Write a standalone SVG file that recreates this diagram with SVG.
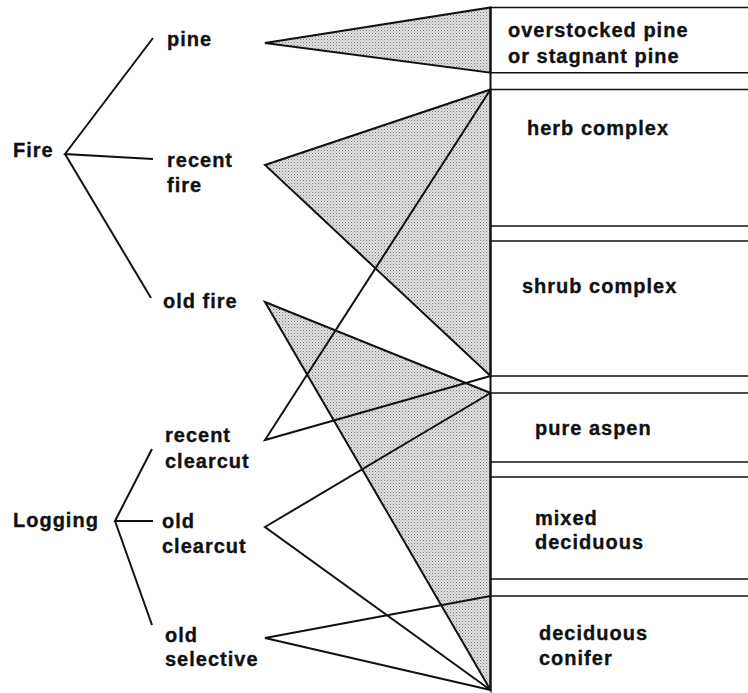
<svg xmlns="http://www.w3.org/2000/svg" width="748" height="693" viewBox="0 0 748 693">
<style>
text{font-family:"Liberation Sans",Arial,Helvetica,sans-serif;font-weight:bold;font-size:20px;letter-spacing:1px;fill:#111;stroke:#111;stroke-width:0.35px}
.ln{stroke:#111;stroke-width:2;fill:none;stroke-linejoin:miter}
.sh{fill:url(#dots);stroke:#111;stroke-width:2;stroke-linejoin:miter}
.bx{stroke:#111;stroke-width:1.6;fill:none}
</style>
<defs>
<pattern id="dots" width="3" height="3" patternUnits="userSpaceOnUse">
<rect width="3" height="3" fill="#e2e2e2"/>
<rect width="1" height="1" fill="#777"/>
<rect x="1.5" y="1.5" width="1" height="1" fill="#999"/>
</pattern>
</defs>
<rect width="748" height="693" fill="#fff"/>
<g id="connectors">
<polygon class="sh" points="265,43 490.5,7.5 490.5,72.7"/>
<polygon class="sh" points="265,165 490.5,89.5 490.5,376"/>
<polygon class="sh" points="265,302 490.5,393 490.5,690"/>
<polyline class="ln" points="490.5,89.5 265,440 490.5,376"/>
<polyline class="ln" points="490.5,393 265,527 490.5,690"/>
<polyline class="ln" points="490.5,596 265,638 490.5,690"/>
<polyline class="ln" points="153,38 65,154 153,159"/>
<line class="ln" x1="65" y1="154" x2="151" y2="298"/>
<polyline class="ln" points="152,449 115,521 153,521"/>
<line class="ln" x1="115" y1="521" x2="152" y2="625"/>
</g>
<g id="boxes">
<line class="ln" x1="490.5" y1="7" x2="490.5" y2="691"/>
<line class="bx" x1="490" y1="7.5" x2="748" y2="7.5"/>
<line class="bx" x1="490" y1="72.7" x2="748" y2="72.7"/>
<line class="bx" x1="490" y1="89.5" x2="748" y2="89.5"/>
<line class="bx" x1="490" y1="226" x2="748" y2="226"/>
<line class="bx" x1="490" y1="241" x2="748" y2="241"/>
<line class="bx" x1="490" y1="376" x2="748" y2="376"/>
<line class="bx" x1="490" y1="393" x2="748" y2="393"/>
<line class="bx" x1="490" y1="462" x2="748" y2="462"/>
<line class="bx" x1="490" y1="477" x2="748" y2="477"/>
<line class="bx" x1="490" y1="579" x2="748" y2="579"/>
<line class="bx" x1="490" y1="596" x2="748" y2="596"/>
</g>
<g id="fire"><text x="13" y="157">Fire</text></g>
<g id="logging"><text x="13" y="527">Logging</text></g>
<g id="pine"><text x="167" y="46">pine</text></g>
<g id="recent-fire"><text x="167" y="167">recent</text><text x="167" y="192">fire</text></g>
<g id="old-fire"><text x="163" y="308">old fire</text></g>
<g id="recent-clearcut"><text x="165" y="442">recent</text><text x="165" y="468">clearcut</text></g>
<g id="old-clearcut"><text x="162" y="528">old</text><text x="162" y="553">clearcut</text></g>
<g id="old-selective"><text x="165" y="642">old</text><text x="165" y="666">selective</text></g>
<g id="overstocked"><text x="508" y="37">overstocked pine</text><text x="508" y="63">or stagnant pine</text></g>
<g id="herb"><text x="527" y="135">herb complex</text></g>
<g id="shrub"><text x="522" y="293">shrub complex</text></g>
<g id="aspen"><text x="535" y="435">pure aspen</text></g>
<g id="mixed"><text x="535" y="525">mixed</text><text x="535" y="549">deciduous</text></g>
<g id="conifer"><text x="539" y="640">deciduous</text><text x="539" y="665">conifer</text></g>
</svg>
